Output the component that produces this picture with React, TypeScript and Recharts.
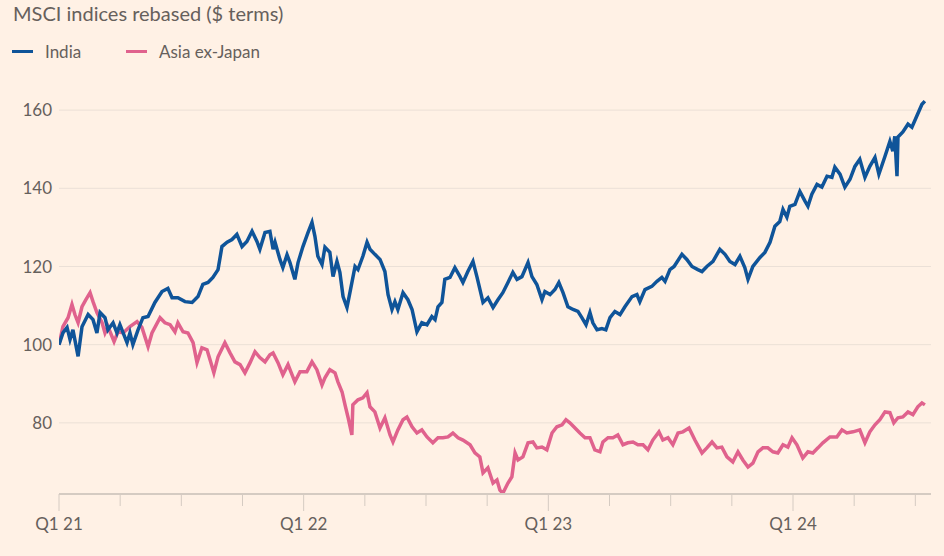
import { LineChart, Line, XAxis, YAxis, ReferenceLine, Legend } from "recharts";

// [year as fraction, index value]
const india: [number, number][] = [
  [2021.0, 100], [2021.016, 103], [2021.033, 104.4], [2021.045, 101.3], [2021.057, 103.8],
  [2021.078, 97], [2021.094, 104.6], [2021.119, 107.7], [2021.139, 106.4], [2021.155, 103],
  [2021.168, 108.2], [2021.188, 106.9], [2021.2, 103.8], [2021.221, 105.6], [2021.237, 103],
  [2021.249, 105.1], [2021.278, 100.5], [2021.29, 103], [2021.302, 100], [2021.323, 103.8],
  [2021.343, 106.9], [2021.364, 107.2], [2021.392, 110.8], [2021.421, 113.6], [2021.445, 114.4],
  [2021.462, 112], [2021.486, 112], [2021.515, 111], [2021.544, 110.8], [2021.568, 112.3],
  [2021.588, 115.4], [2021.609, 115.9], [2021.629, 117.2], [2021.65, 119.2], [2021.666, 125.1],
  [2021.687, 126.2], [2021.707, 126.9], [2021.727, 128.2], [2021.748, 125.1], [2021.768, 126.4],
  [2021.789, 129], [2021.809, 126.4], [2021.821, 124.4], [2021.842, 128.7], [2021.862, 129],
  [2021.875, 124.4], [2021.883, 126.2], [2021.903, 121.8], [2021.915, 119.7], [2021.932, 123],
  [2021.944, 121], [2021.964, 116.7], [2021.977, 121], [2021.997, 125.1], [2022.018, 128.7],
  [2022.034, 131.3], [2022.046, 127.7], [2022.058, 122.6], [2022.075, 120.5], [2022.087, 124.9],
  [2022.107, 123.6], [2022.12, 117.4], [2022.136, 121.3], [2022.148, 118.5], [2022.161, 112.3],
  [2022.177, 109.5], [2022.189, 113.3], [2022.21, 120], [2022.222, 119.2], [2022.242, 122.6],
  [2022.259, 126.2], [2022.271, 124.4], [2022.291, 123.1], [2022.312, 121.8], [2022.332, 118.7],
  [2022.345, 112.8], [2022.361, 109], [2022.373, 111], [2022.385, 109], [2022.406, 113.3],
  [2022.426, 111.5], [2022.443, 109], [2022.463, 103.3], [2022.483, 105.6], [2022.504, 105.1],
  [2022.524, 107.2], [2022.537, 106.4], [2022.549, 109.7], [2022.565, 110.8], [2022.577, 116.7],
  [2022.598, 117.2], [2022.618, 119.7], [2022.639, 117.4], [2022.651, 115.9], [2022.671, 118.7],
  [2022.692, 121.3], [2022.708, 117.4], [2022.733, 110.8], [2022.753, 112], [2022.774, 109.5],
  [2022.794, 111.5], [2022.814, 113.3], [2022.835, 115.9], [2022.855, 118.5], [2022.872, 116.7],
  [2022.892, 117.4], [2022.917, 121], [2022.933, 117.4], [2022.953, 115.4], [2022.974, 111.5],
  [2022.986, 113.6], [2023.007, 112.8], [2023.027, 114.1], [2023.043, 115.9], [2023.06, 113.3],
  [2023.08, 109.7], [2023.101, 109], [2023.121, 108.5], [2023.137, 106.9], [2023.154, 105.1],
  [2023.17, 108.2], [2023.182, 105.6], [2023.199, 103.8], [2023.219, 104.1], [2023.235, 103.8],
  [2023.252, 106.9], [2023.272, 108.5], [2023.293, 107.7], [2023.313, 109.7], [2023.342, 112.3],
  [2023.362, 112.8], [2023.374, 111], [2023.395, 114.1], [2023.423, 114.9], [2023.444, 116.2],
  [2023.464, 117.2], [2023.477, 116.2], [2023.497, 119.2], [2023.514, 120], [2023.546, 123.1],
  [2023.566, 121.8], [2023.587, 120], [2023.611, 119.2], [2023.628, 118.7], [2023.648, 120],
  [2023.673, 121.3], [2023.701, 124.4], [2023.722, 123.1], [2023.742, 121.3], [2023.763, 120.5],
  [2023.783, 122.6], [2023.803, 119.7], [2023.816, 116.7], [2023.836, 120], [2023.865, 122.3],
  [2023.885, 123.6], [2023.906, 126.2], [2023.926, 130.3], [2023.946, 131.5], [2023.959, 134.6],
  [2023.975, 132.6], [2023.987, 135.4], [2024.008, 135.9], [2024.028, 139.2], [2024.049, 136.7],
  [2024.061, 135.4], [2024.077, 138.5], [2024.098, 141], [2024.118, 140.3], [2024.139, 143.1],
  [2024.159, 142.8], [2024.171, 145.4], [2024.192, 143.6], [2024.212, 140.3], [2024.233, 142.3],
  [2024.253, 145.6], [2024.273, 147.4], [2024.294, 142.8], [2024.314, 145.6], [2024.335, 147.9],
  [2024.351, 143.6], [2024.376, 148.2], [2024.396, 152], [2024.408, 149.5], [2024.416, 153.3],
  [2024.425, 143.1], [2024.429, 153.1], [2024.449, 154.4], [2024.47, 156.4], [2024.486, 155.6],
  [2024.506, 158.5], [2024.527, 161.5], [2024.539, 162.3],
];

const asiaExJapan: [number, number][] = [
  [2021.0, 100], [2021.016, 104.6], [2021.037, 106.9], [2021.053, 110.3], [2021.065, 107.7],
  [2021.078, 105.6], [2021.094, 109.7], [2021.11, 111.5], [2021.127, 113.3], [2021.139, 111],
  [2021.155, 108.2], [2021.176, 105.6], [2021.188, 103], [2021.2, 104.6], [2021.225, 100.8],
  [2021.241, 103.3], [2021.262, 103], [2021.29, 104.6], [2021.319, 105.9], [2021.339, 104.4],
  [2021.364, 99.5], [2021.38, 103], [2021.413, 106.9], [2021.433, 105.6], [2021.454, 105.1],
  [2021.474, 103.3], [2021.486, 105.6], [2021.507, 103.3], [2021.527, 103], [2021.548, 100.5],
  [2021.564, 95.4], [2021.584, 99.2], [2021.605, 98.7], [2021.617, 96.2], [2021.633, 92.8],
  [2021.65, 96.9], [2021.678, 100.5], [2021.699, 97.9], [2021.719, 95.6], [2021.74, 94.9],
  [2021.76, 92.8], [2021.781, 95.4], [2021.801, 98.2], [2021.821, 96.7], [2021.842, 95.6],
  [2021.862, 97.4], [2021.875, 97.9], [2021.895, 95.4], [2021.915, 92.3], [2021.936, 94.9],
  [2021.964, 90.5], [2021.985, 93.1], [2022.013, 93.1], [2022.034, 95.6], [2022.054, 93.6],
  [2022.075, 89.7], [2022.087, 91.5], [2022.107, 93.6], [2022.128, 92.8], [2022.14, 90.5],
  [2022.157, 87.9], [2022.169, 84.6], [2022.181, 81.5], [2022.197, 76.9], [2022.201, 84.6],
  [2022.222, 85.9], [2022.242, 86.4], [2022.259, 87.7], [2022.271, 84.1], [2022.291, 82.8],
  [2022.312, 78.7], [2022.332, 81.3], [2022.353, 76.9], [2022.365, 75.1], [2022.385, 78.2],
  [2022.406, 80.8], [2022.422, 81.5], [2022.443, 79], [2022.463, 77.4], [2022.483, 78.2],
  [2022.504, 76.4], [2022.528, 74.9], [2022.549, 76.2], [2022.569, 76.2], [2022.59, 76.4],
  [2022.61, 77.4], [2022.631, 76.2], [2022.651, 75.6], [2022.68, 74.4], [2022.7, 72.3],
  [2022.72, 71.3], [2022.733, 67.2], [2022.753, 68.5], [2022.774, 64.6], [2022.79, 65.4],
  [2022.802, 62.8], [2022.814, 62], [2022.835, 64.6], [2022.851, 66.2], [2022.864, 72.3],
  [2022.876, 70.5], [2022.896, 71.3], [2022.917, 74.9], [2022.937, 75.1], [2022.953, 73.6],
  [2022.974, 73.8], [2022.994, 73.1], [2023.015, 77.4], [2023.035, 79], [2023.056, 79.5],
  [2023.072, 80.8], [2023.088, 80], [2023.109, 78.7], [2023.129, 77.4], [2023.15, 76.2],
  [2023.17, 76.2], [2023.19, 73.1], [2023.211, 72.6], [2023.223, 75.1], [2023.244, 76.2],
  [2023.264, 76.2], [2023.284, 76.9], [2023.305, 74.4], [2023.325, 74.9], [2023.346, 75.1],
  [2023.366, 74.4], [2023.387, 74.4], [2023.407, 73.1], [2023.427, 75.6], [2023.452, 77.7],
  [2023.468, 75.6], [2023.489, 76.2], [2023.509, 74.4], [2023.53, 77.4], [2023.55, 77.7],
  [2023.575, 78.7], [2023.599, 75.6], [2023.628, 72.3], [2023.648, 73.6], [2023.669, 75.1],
  [2023.689, 73.6], [2023.709, 73.8], [2023.73, 71.3], [2023.754, 70], [2023.775, 72.6],
  [2023.795, 70.5], [2023.816, 68.7], [2023.836, 69.7], [2023.857, 72.6], [2023.877, 73.6],
  [2023.897, 73.6], [2023.918, 72.6], [2023.938, 72.3], [2023.959, 74.4], [2023.979, 73.8],
  [2023.996, 76.2], [2024.016, 74.4], [2024.04, 71], [2024.061, 72.6], [2024.081, 72.3],
  [2024.102, 73.6], [2024.122, 74.9], [2024.151, 76.4], [2024.179, 76.4], [2024.2, 78.2],
  [2024.22, 77.4], [2024.245, 77.7], [2024.273, 78.2], [2024.294, 74.9], [2024.314, 77.7],
  [2024.335, 79.5], [2024.355, 80.8], [2024.376, 82.8], [2024.396, 82.6], [2024.412, 80],
  [2024.429, 81.3], [2024.449, 81.5], [2024.47, 82.8], [2024.49, 82.1], [2024.51, 84.1],
  [2024.527, 85.1], [2024.539, 84.6],
];

const quarterTicks = [
  2021, 2021.25, 2021.5, 2021.75, 2022, 2022.25, 2022.5, 2022.75,
  2023, 2023.25, 2023.5, 2023.75, 2024, 2024.25, 2024.5,
];
const valueTicks = [80, 100, 120, 140, 160];

const seriesNames = ["India", "Asia ex-Japan"];
const seriesColors = ["#0f5499", "#e0628d"];

const FONT = "Lato, 'Open Sans', sans-serif";
const TEXT = "#66605c";

const toRows = (pts: [number, number][]) => pts.map(([t, v]) => ({ t, v }));

function QuarterTick(props: any) {
  const { x, y, payload } = props;
  const v = payload.value as number;
  const isQ1 = Math.abs(v - Math.round(v)) < 1e-6;
  return (
    <g>
      <line x1={x} x2={x} y1={y} y2={y + (isQ1 ? 17 : 12)} stroke="#d5cbc2" strokeWidth={1} />
      {isQ1 && (
        <text x={x} y={y + 36} textAnchor="middle" fill={TEXT} fontSize={17} fontFamily={FONT}>
          {`Q1 ${String(Math.round(v)).slice(2)}`}
        </text>
      )}
    </g>
  );
}

function LegendRow() {
  return (
    <div style={{ display: "flex", fontFamily: FONT, fontSize: 17, color: TEXT }}>
      {seriesNames.map((name, i) => (
        <div key={name} style={{ display: "flex", alignItems: "center", width: i === 0 ? 114 : "auto" }}>
          <span style={{ display: "inline-block", width: 21, height: 3, background: seriesColors[i], marginRight: 12 }} />
          <span>{name}</span>
        </div>
      ))}
    </div>
  );
}

export default function App() {
  return (
    <div style={{ position: "absolute", left: 0, top: 0, width: 944, height: 556, background: "#fff1e5", overflow: "hidden" }}>
      <div style={{ position: "absolute", left: 13, top: 3, fontFamily: FONT, fontSize: 20, lineHeight: "20px", color: TEXT }}>
        MSCI indices rebased ($ terms)
      </div>
      <LineChart
        width={944}
        height={556}
        margin={{ top: 71, right: 13, bottom: 0, left: 0 }}
        accessibilityLayer={false}
      >
        <XAxis
          type="number"
          dataKey="t"
          domain={[2021, 2024.564]}
          ticks={quarterTicks}
          interval={0}
          height={62}
          tickSize={0}
          tickMargin={0}
          tick={<QuarterTick />}
          axisLine={{ stroke: "#d5cbc2", strokeWidth: 2 }}
          allowDataOverflow
        />
        <YAxis
          type="number"
          domain={[61.8, 170]}
          ticks={valueTicks}
          width={59}
          tickSize={0}
          tickMargin={7}
          tickLine={false}
          axisLine={false}
          tick={{ fill: TEXT, fontSize: 17, fontFamily: FONT }}
          allowDataOverflow
        />
        {valueTicks.map((v) => (
          <ReferenceLine key={v} y={v} stroke="#ebe0d6" strokeWidth={1} />
        ))}
        <Legend
          verticalAlign="middle"
          align="center"
          layout="horizontal"
          wrapperStyle={{ top: 41, left: 12, width: 400 }}
          content={() => <LegendRow />}
        />
        <Line
          data={toRows(asiaExJapan)}
          dataKey="v"
          name={seriesNames[1]}
          stroke={seriesColors[1]}
          strokeWidth={3.5}
          dot={false}
          type="linear"
          isAnimationActive={false}
        />
        <Line
          data={toRows(india)}
          dataKey="v"
          name={seriesNames[0]}
          stroke={seriesColors[0]}
          strokeWidth={3.5}
          dot={false}
          type="linear"
          isAnimationActive={false}
        />
      </LineChart>
    </div>
  );
}
